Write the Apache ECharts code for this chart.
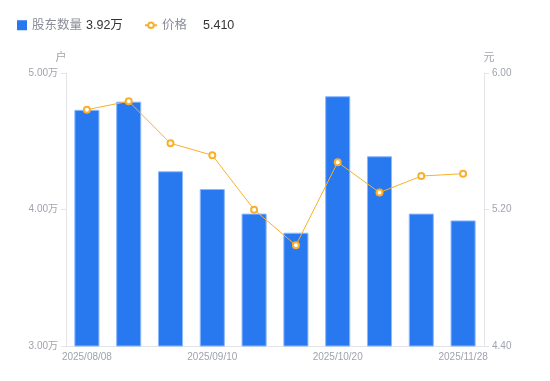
<!DOCTYPE html>
<html><head><meta charset="utf-8">
<script src="https://cdn.jsdelivr.net/npm/echarts@6/dist/echarts.min.js"></script>
<style>html,body{margin:0;padding:0;background:#fff}#c{width:550px;height:381px}</style>
</head><body><div id="c"></div>
<script>
const categories = ['2025/08/08','2025/08/20','2025/08/29','2025/09/10','2025/09/19','2025/09/30','2025/10/20','2025/10/31','2025/11/14','2025/11/28'];
const holders = [4.73, 4.79, 4.28, 4.15, 3.97, 3.83, 4.83, 4.39, 3.97, 3.92];
const prices = [5.785, 5.834, 5.588, 5.518, 5.199, 4.990, 5.477, 5.299, 5.396, 5.410];
const leftTicks = [3, 4, 5];
const rightTicks = [4.4, 5.2, 6.0];

const chart = echarts.init(document.getElementById('c'));
const gray = '#a0a3ae';
const font = '"Liberation Sans","Noto Sans CJK SC",sans-serif';
const lastH = holders[holders.length-1].toFixed(2) + '万';
const lastP = prices[prices.length-1].toFixed(3);
const richFor = w => ({a:{color:'#8a8d99',fontSize:12.5,fontFamily:font,width:w},b:{color:'#333',fontSize:12.5,fontFamily:font}});
chart.setOption({
  animation:false,
  textStyle:{fontFamily:font},
  legend:[{
    left:17, top:19, padding:0, itemWidth:10, itemHeight:10,
    data:[{name:'股东数量', icon:'rect', itemStyle:{borderWidth:0}}],
    formatter: n => '{a|'+n+'}{b|'+lastH+'}',
    textStyle:{rich:richFor(54)}
  },{
    left:144, top:19, padding:0, itemWidth:12, itemHeight:7,
    data:[{name:'价格', lineStyle:{width:2}}],
    formatter: n => '{a|'+n+'}{b|'+lastP+'}',
    textStyle:{rich:richFor(41)}
  }],
  grid:{left:66,right:66,top:73,bottom:35,containLabel:false},
  xAxis:{
    type:'category', data:categories,
    axisLine:{lineStyle:{color:'#e3e4e8'}},
    axisTick:{show:false},
    axisLabel:{color:gray,fontSize:10,interval:2,margin:6}
  },
  yAxis:[{
    type:'value', name:'户', min:leftTicks[0], max:leftTicks[2], interval:1,
    nameTextStyle:{color:gray,fontSize:11,padding:[0,0,0,-10]},
    nameGap:10,
    axisLine:{show:true,lineStyle:{color:'#e3e4e8'}},
    axisTick:{show:true,length:5,lineStyle:{color:'#e3e4e8'}},
    splitLine:{show:false},
    axisLabel:{color:gray,fontSize:10,margin:8,formatter:v=>v.toFixed(2)+'万'}
  },{
    type:'value', name:'元', min:rightTicks[0], max:rightTicks[2], interval:0.8,
    nameTextStyle:{color:gray,fontSize:11,padding:[0,-10,0,0]},
    nameGap:10,
    axisLine:{show:true,lineStyle:{color:'#e3e4e8'}},
    axisTick:{show:true,length:5,lineStyle:{color:'#e3e4e8'}},
    splitLine:{show:false},
    axisLabel:{color:gray,fontSize:10,margin:8,formatter:v=>v.toFixed(2)}
  }],
  series:[{
    name:'股东数量', type:'bar', data:holders, barWidth:'60%',
    itemStyle:{color:'#2878f0',borderColor:'#8cb8ff',borderWidth:1}
  },{
    name:'价格', type:'line', yAxisIndex:1, data:prices,
    symbol:'emptyCircle', symbolSize:6,
    lineStyle:{color:'#f8b02c',width:1},
    itemStyle:{color:'#f8b02c',borderWidth:2}
  }]
});
</script></body></html>
